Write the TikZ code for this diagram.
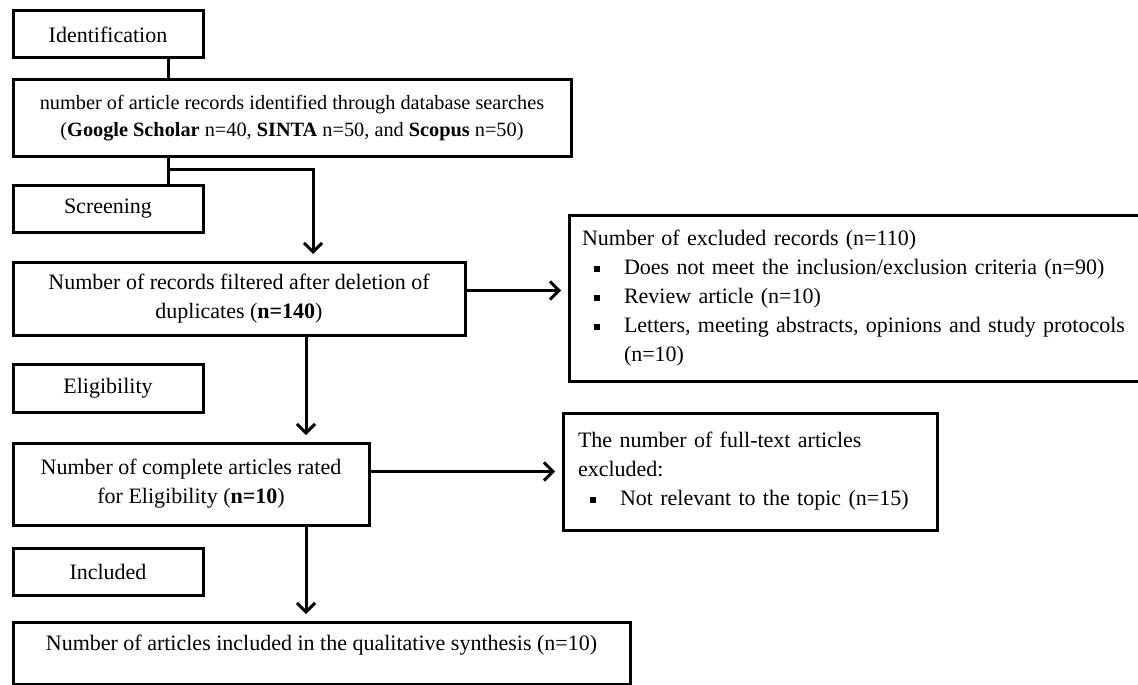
\documentclass[tikz,border=0pt]{standalone}
\usepackage{fontspec}
\setmainfont{Liberation Serif}
\usepackage{tikz}
\usetikzlibrary{arrows.meta, positioning}
\newcommand{\sqitem}{\makebox[42pt][l]{\hspace*{12pt}\rule[2.5pt]{6pt}{6pt}}}

\begin{document}
\begin{tikzpicture}[
    x=1pt, y=-1pt,
    every node/.style={font=\fontsize{22}{29}\selectfont},
    stagebox/.style={rectangle, draw, line width=3pt, outer sep=0pt, inner sep=0pt,
                     minimum width=190pt, minimum height=47pt, align=center},
    flowbox/.style={rectangle, draw, line width=3pt, outer sep=0pt, align=center},
    notebox/.style={rectangle, draw, line width=3pt, outer sep=0pt, align=left, anchor=west},
    link/.style={line width=3pt},
    arrow/.style={-{Straight Barb[length=9pt, width=18pt]}, line width=3pt, shorten >=8pt}
]
\useasboundingbox (0,0) rectangle (1138,685);

% Identification
\node[stagebox, anchor=north west] (ident) at (13,11) {Identification};
\node[flowbox, minimum width=558pt, minimum height=76pt, font=\fontsize{20.3}{27}\selectfont,
      below=22pt of ident.south west, anchor=north west] (search)
    {number of article records identified through database searches\\
     (\textbf{Google Scholar} n=40, \textbf{SINTA} n=50, and \textbf{Scopus} n=50)};

% Screening
\node[stagebox, below=29pt of search.south west, anchor=north west] (screening) {Screening};
\node[flowbox, minimum width=452pt, minimum height=73pt,
      below=30pt of screening.south west, anchor=north west] (records)
    {Number of records filtered after deletion of\\duplicates (\textbf{n=140})};

% Eligibility
\node[stagebox, minimum height=48pt, below=29pt of records.south west, anchor=north west] (eligibility) {Eligibility};
\node[flowbox, minimum width=356pt, minimum height=82pt,
      below=31pt of eligibility.south west, anchor=north west] (rated)
    {Number of complete articles rated\\for Eligibility (\textbf{n=10})};

% Included
\node[stagebox, below=23pt of rated.south west, anchor=north west] (included) {Included};
\node[flowbox, minimum width=617pt, text height=16pt, text depth=22pt, inner ysep=12pt,
      below=27pt of included.south west, anchor=north west] (synthesis)
    {Number of articles included in the qualitative synthesis (n=10)};

% Exclusion notes
\node[notebox, minimum height=166pt, text width=564pt, inner xsep=13pt,
      right=104pt of records] (excluded)
    {Number of excluded records (n=110)\\
     \sqitem Does not meet the inclusion/exclusion criteria (n=90)\\
     \sqitem Review article (n=10)\\
     \sqitem Letters, meeting abstracts, opinions and study protocols\\
     \hspace*{42pt}(n=10)};
\node[notebox, anchor=north west, minimum height=117pt, text width=344pt, inner xsep=15pt] (fulltext) at (563,413)
    {The number of full-text articles\\
     excluded:\\
     \sqitem Not relevant to the topic (n=15)};

% Connectors
\coordinate (spineA) at (168,0);
\coordinate (bend) at (313,169);
\coordinate (spineB) at (306,0);
\draw[link] (ident.south -| spineA) -- (search.north -| spineA);
\draw[link] (search.south -| spineA) -- (screening.north -| spineA);
\draw[arrow] (bend -| spineA) -- (bend) -- (records.north -| bend);
\draw[arrow] (records.south -| spineB) -- (rated.north -| spineB);
\draw[arrow] (rated.south -| spineB) -- (synthesis.north -| spineB);

% Side arrows
\draw[arrow] ([yshift=8pt]records.east) -- ([yshift=8pt]excluded.west);
\draw[arrow] (rated.east |- fulltext.west) -- (fulltext.west);

\end{tikzpicture}
\end{document}
